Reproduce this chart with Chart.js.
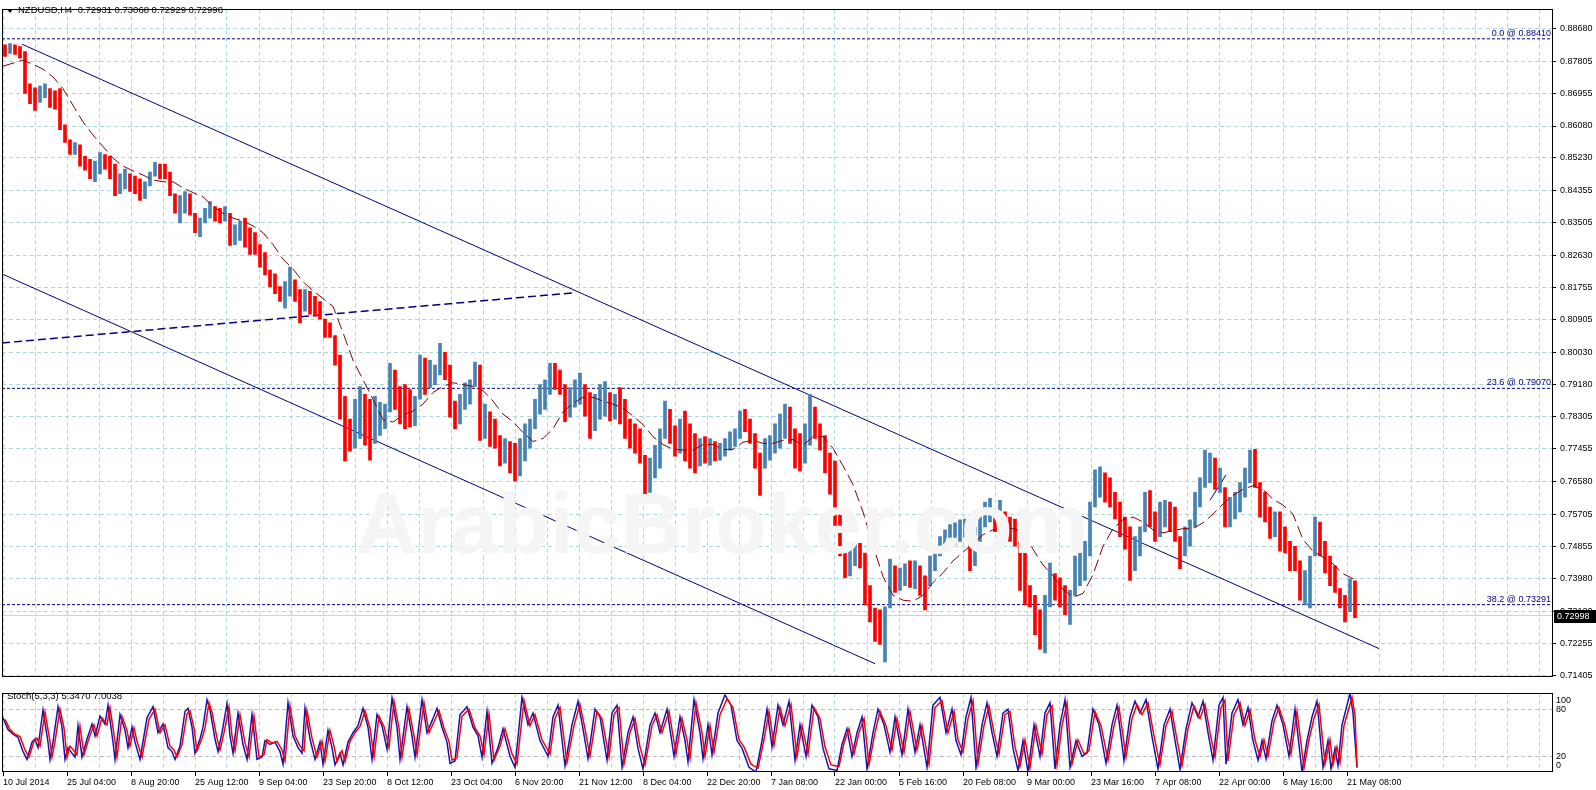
<!DOCTYPE html>
<html><head><meta charset="utf-8">
<script src="https://cdn.jsdelivr.net/npm/chart.js@4.4.1/dist/chart.umd.min.js"></script>
<style>
html,body{margin:0;padding:0;background:#fff;}
#wrap{position:relative;width:1596px;height:790px;overflow:hidden;font-family:"Liberation Sans",Arial,sans-serif;}
#c1{position:absolute;left:0;top:0;}
#c2{position:absolute;left:0;top:685px;}
.txt{position:absolute;white-space:pre;font-size:9.5px;line-height:12px;color:#000;}
#tri{position:absolute;left:7px;top:9px;width:0;height:0;border-left:3px solid transparent;border-right:3px solid transparent;border-top:4px solid #000;}
#wm{position:absolute;left:356px;top:481px;font:bold 85px "Liberation Sans",Arial,sans-serif;line-height:85px;color:#F5F5F5;white-space:nowrap;pointer-events:none;}
</style></head><body>
<div id="wrap">
<canvas id="c1" width="1596" height="686"></canvas>
<canvas id="c2" width="1596" height="105"></canvas>
<div id="tri"></div>
<div class="txt" style="left:18px;top:4px;">NZDUSD,H4  0.72931 0.73068 0.72929 0.72998</div>
<div class="txt" style="left:7px;top:690px;">Stoch(5,3,3) 5.3470 7.0038</div>
<div id="wm">ArabicBroker.com</div>
</div>
<script>
// ---------- data ----------
const tickLabels = ['10 Jul 2014','25 Jul 04:00','8 Aug 20:00','25 Aug 12:00','9 Sep 04:00','23 Sep 20:00','8 Oct 12:00','23 Oct 04:00','6 Nov 20:00','21 Nov 12:00','8 Dec 04:00','22 Dec 20:00','7 Jan 08:00','22 Jan 00:00','5 Feb 16:00','20 Feb 08:00','9 Mar 00:00','23 Mar 16:00','7 Apr 08:00','22 Apr 00:00','6 May 16:00','21 May 08:00'];
const yTickValues = [0.88680,0.87805,0.86955,0.86080,0.85230,0.84355,0.83505,0.82630,0.81755,0.80905,0.80030,0.79180,0.78305,0.77455,0.76580,0.75705,0.74855,0.73980,0.73120,0.72255,0.71405];
const stochLevels = [20, 80];

// H4 price, aggregated into blocks of 5 bars (high / low / close of each block)
const blockSize = 5;
const highs = [
0.8825,0.8828,0.8825,0.8820,0.8807,0.8721,0.8710,0.8715,0.8721,0.8708,
0.8702,0.8708,0.8611,0.8571,0.8564,0.8558,0.8527,0.8519,0.8514,0.8537,
0.8532,0.8527,0.8506,0.8480,0.8493,0.8480,0.8474,0.8467,0.8459,0.8485,
0.8511,0.8506,0.8506,0.8485,0.8427,0.8422,0.8433,0.8427,0.8375,0.8362,
0.8388,0.8406,0.8393,0.8388,0.8393,0.8375,0.8344,0.8354,0.8362,0.8336,
0.8323,0.8291,0.8270,0.8223,0.8213,0.8179,0.8192,0.8231,0.8197,0.8171,
0.8171,0.8166,0.8153,0.8139,0.8092,0.8082,0.8048,0.7996,0.7886,0.7825,
0.7878,0.7912,0.7891,0.7878,0.7886,0.7870,0.7865,0.7974,0.7956,0.7912,
0.7917,0.7904,0.7886,0.7996,0.7988,0.7982,0.7969,0.8027,0.8003,0.7969,
0.7873,0.7891,0.7922,0.7930,0.7977,0.7969,0.7865,0.7844,0.7825,0.7781,
0.7773,0.7765,0.7760,0.7773,0.7812,0.7825,0.7878,0.7917,0.7930,0.7974,
0.7974,0.7956,0.7917,0.7909,0.7930,0.7948,0.7917,0.7896,0.7891,0.7917,
0.7925,0.7896,0.7891,0.7909,0.7878,0.7825,0.7812,0.7799,0.7728,0.7721,
0.7755,0.7799,0.7873,0.7851,0.7807,0.7825,0.7846,0.7812,0.7786,0.7773,
0.7778,0.7773,0.7765,0.7760,0.7773,0.7791,0.7799,0.7846,0.7851,0.7825,
0.7786,0.7734,0.7773,0.7781,0.7812,0.7838,0.7865,0.7857,0.7799,0.7786,
0.7812,0.7891,0.7857,0.7812,0.7781,0.7734,0.7713,0.7577,0.7485,0.7480,
0.7493,0.7493,0.7467,0.7380,0.7320,0.7315,0.7323,0.7451,0.7433,0.7427,
0.7438,0.7446,0.7446,0.7433,0.7406,0.7459,0.7477,0.7511,0.7529,0.7543,
0.7550,0.7556,0.7558,0.7537,0.7537,0.7577,0.7603,0.7613,0.7577,0.7608,
0.7577,0.7563,0.7558,0.7498,0.7477,0.7380,0.7354,0.7315,0.7354,0.7440,
0.7412,0.7401,0.7380,0.7367,0.7459,0.7477,0.7498,0.7603,0.7689,0.7697,
0.7681,0.7668,0.7629,0.7603,0.7563,0.7537,0.7511,0.7537,0.7629,0.7634,
0.7577,0.7603,0.7608,0.7603,0.7590,0.7511,0.7537,0.7556,0.7629,0.7668,
0.7742,0.7734,0.7721,0.7694,0.7642,0.7616,0.7629,0.7655,0.7694,0.7742,
0.7744,0.7655,0.7629,0.7590,0.7577,0.7577,0.7537,0.7498,0.7485,0.7446,
0.7420,0.7459,0.7563,0.7550,0.7498,0.7459,0.7433,0.7372,0.7354,0.7398,
0.7393];
const lows = [
0.8794,0.8802,0.8799,0.8789,0.8695,0.8668,0.8650,0.8671,0.8684,0.8658,
0.8653,0.8598,0.8564,0.8532,0.8532,0.8501,0.8490,0.8467,0.8459,0.8480,
0.8493,0.8467,0.8422,0.8427,0.8440,0.8433,0.8427,0.8409,0.8414,0.8448,
0.8474,0.8467,0.8467,0.8422,0.8375,0.8349,0.8375,0.8370,0.8323,0.8312,
0.8349,0.8362,0.8354,0.8349,0.8354,0.8289,0.8291,0.8302,0.8284,0.8265,
0.8265,0.8231,0.8210,0.8179,0.8160,0.8139,0.8121,0.8153,0.8139,0.8082,
0.8113,0.8105,0.8100,0.8092,0.8043,0.8043,0.7969,0.7825,0.7713,0.7739,
0.7747,0.7773,0.7755,0.7715,0.7760,0.7781,0.7799,0.7844,0.7851,0.7812,
0.7799,0.7804,0.7807,0.7878,0.7891,0.7909,0.7917,0.7943,0.7930,0.7830,
0.7799,0.7812,0.7851,0.7865,0.7912,0.7768,0.7773,0.7752,0.7747,0.7700,
0.7707,0.7681,0.7660,0.7673,0.7713,0.7747,0.7799,0.7838,0.7851,0.7891,
0.7904,0.7891,0.7818,0.7830,0.7857,0.7865,0.7833,0.7773,0.7794,0.7825,
0.7833,0.7820,0.7825,0.7812,0.7773,0.7747,0.7734,0.7707,0.7624,0.7629,
0.7668,0.7694,0.7773,0.7760,0.7726,0.7734,0.7713,0.7694,0.7681,0.7700,
0.7707,0.7702,0.7713,0.7715,0.7726,0.7742,0.7752,0.7773,0.7791,0.7760,
0.7694,0.7621,0.7694,0.7715,0.7734,0.7747,0.7773,0.7760,0.7694,0.7686,
0.7707,0.7755,0.7773,0.7742,0.7681,0.7624,0.7537,0.7459,0.7401,0.7406,
0.7433,0.7427,0.7328,0.7283,0.7231,0.7223,0.7176,0.7320,0.7362,0.7367,
0.7380,0.7375,0.7372,0.7354,0.7315,0.7380,0.7420,0.7459,0.7472,0.7485,
0.7490,0.7498,0.7511,0.7420,0.7433,0.7498,0.7537,0.7550,0.7524,0.7550,
0.7524,0.7498,0.7485,0.7367,0.7328,0.7323,0.7249,0.7210,0.7200,0.7323,
0.7341,0.7323,0.7302,0.7276,0.7354,0.7380,0.7394,0.7459,0.7590,0.7616,
0.7603,0.7590,0.7558,0.7511,0.7477,0.7394,0.7420,0.7459,0.7524,0.7537,
0.7498,0.7511,0.7537,0.7524,0.7498,0.7425,0.7459,0.7485,0.7537,0.7590,
0.7642,0.7655,0.7637,0.7629,0.7537,0.7537,0.7558,0.7577,0.7616,0.7655,
0.7642,0.7563,0.7550,0.7506,0.7511,0.7472,0.7467,0.7420,0.7420,0.7341,
0.7328,0.7320,0.7459,0.7459,0.7414,0.7380,0.7362,0.7320,0.7283,0.7310,
0.7294];
const closes = [
0.8810,0.8815,0.8807,0.8799,0.8728,0.8689,0.8676,0.8695,0.8702,0.8676,
0.8668,0.8624,0.8579,0.8545,0.8550,0.8511,0.8506,0.8493,0.8501,0.8519,
0.8511,0.8493,0.8440,0.8459,0.8467,0.8454,0.8448,0.8427,0.8454,0.8474,
0.8493,0.8485,0.8480,0.8433,0.8388,0.8401,0.8414,0.8380,0.8336,0.8349,
0.8375,0.8388,0.8375,0.8362,0.8370,0.8310,0.8328,0.8336,0.8302,0.8284,
0.8275,0.8249,0.8223,0.8192,0.8171,0.8153,0.8166,0.8192,0.8160,0.8126,
0.8145,0.8139,0.8113,0.8100,0.8061,0.8053,0.7988,0.7851,0.7812,0.7773,
0.7825,0.7865,0.7812,0.7773,0.7825,0.7838,0.7846,0.7917,0.7891,0.7865,
0.7851,0.7838,0.7851,0.7956,0.7943,0.7951,0.7956,0.7982,0.7969,0.7851,
0.7825,0.7878,0.7891,0.7904,0.7951,0.7799,0.7825,0.7786,0.7773,0.7734,
0.7747,0.7715,0.7694,0.7747,0.7760,0.7799,0.7851,0.7891,0.7904,0.7943,
0.7930,0.7917,0.7878,0.7878,0.7891,0.7904,0.7865,0.7825,0.7851,0.7878,
0.7878,0.7851,0.7865,0.7851,0.7812,0.7773,0.7760,0.7721,0.7668,0.7681,
0.7721,0.7773,0.7838,0.7799,0.7773,0.7799,0.7773,0.7747,0.7734,0.7747,
0.7734,0.7747,0.7734,0.7742,0.7752,0.7773,0.7773,0.7825,0.7812,0.7773,
0.7721,0.7694,0.7747,0.7760,0.7773,0.7799,0.7825,0.7799,0.7747,0.7734,
0.7773,0.7825,0.7799,0.7773,0.7707,0.7642,0.7563,0.7472,0.7433,0.7446,
0.7459,0.7454,0.7354,0.7302,0.7262,0.7249,0.7302,0.7420,0.7394,0.7406,
0.7412,0.7394,0.7420,0.7380,0.7354,0.7446,0.7459,0.7498,0.7511,0.7511,
0.7524,0.7537,0.7537,0.7485,0.7511,0.7550,0.7577,0.7577,0.7550,0.7577,
0.7550,0.7524,0.7511,0.7406,0.7354,0.7341,0.7276,0.7236,0.7302,0.7406,
0.7380,0.7354,0.7341,0.7354,0.7420,0.7446,0.7472,0.7577,0.7655,0.7668,
0.7642,0.7616,0.7590,0.7537,0.7511,0.7459,0.7472,0.7511,0.7590,0.7577,
0.7537,0.7563,0.7577,0.7563,0.7524,0.7459,0.7511,0.7537,0.7603,0.7642,
0.7694,0.7694,0.7668,0.7668,0.7577,0.7577,0.7603,0.7629,0.7668,0.7707,
0.7668,0.7603,0.7577,0.7537,0.7550,0.7511,0.7485,0.7446,0.7433,0.7380,
0.7380,0.7433,0.7537,0.7498,0.7459,0.7406,0.7380,0.7341,0.7315,0.7380,
0.72998];

// moving average, one value every 10 bars
const maStep = 10;
const maValues = [
0.8768,0.8776,0.8784,0.8773,0.8760,0.8739,0.8708,0.8663,0.8619,0.8584,
0.8553,0.8522,0.8501,0.8488,0.8477,0.8464,0.8459,0.8459,0.8443,0.8430,
0.8419,0.8393,0.8375,0.8362,0.8354,0.8341,0.8323,0.8291,0.8252,0.8226,
0.8192,0.8168,0.8147,0.8126,0.8056,0.7982,0.7930,0.7878,0.7823,0.7817,
0.7836,0.7846,0.7865,0.7896,0.7912,0.7922,0.7917,0.7912,0.7901,0.7873,
0.7838,0.7818,0.7789,0.7765,0.7773,0.7799,0.7844,0.7867,0.7883,0.7883,
0.7873,0.7865,0.7854,0.7833,0.7810,0.7778,0.7757,0.7744,0.7742,0.7742,
0.7757,0.7757,0.7744,0.7744,0.7763,0.7768,0.7760,0.7760,0.7768,0.7770,
0.7755,0.7778,0.7778,0.7747,0.7700,0.7650,0.7577,0.7487,0.7404,0.7354,
0.7341,0.7338,0.7354,0.7388,0.7414,0.7446,0.7469,0.7493,0.7516,0.7529,
0.7532,0.7532,0.7524,0.7477,0.7435,0.7406,0.7370,0.7349,0.7359,0.7409,
0.7485,0.7532,0.7556,0.7563,0.7550,0.7529,0.7521,0.7527,0.7532,0.7532,
0.7548,0.7571,0.7598,0.7621,0.7637,0.7647,0.7637,0.7611,0.7595,0.7571,
0.7503,0.7472,0.7456,0.7438,0.7412,0.7398];

// Fibonacci levels
const fibNames = ['0.0','23.6','38.2'];
const fibLevels = [0.88410, 0.79070, 0.73291];
// drawn trend objects: [bar, price] anchor points
const upperChannel = [[19, 0.88266],[1376, 0.72116]];
const lowerChannel = [[-1, 0.82127],[872, 0.71713]];
const dashedTrend  = [[-1, 0.80284],[569, 0.81619]];
const shortTrend   = [[1207, 0.7608],[1223, 0.7676]];

// Stochastic (5,3,3): turning points [bar] / [value]
const stochBars = [
0,5,10,15,20,24,29,32,35,40,
45,47,50,55,59,62,65,69,72,75,
79,84,89,92,97,102,105,110,112,117,
122,125,129,132,137,144,150,155,160,165,
169,172,177,182,185,189,192,197,200,204,
207,212,215,219,224,227,230,235,240,244,
249,254,259,262,267,272,277,280,285,290,
295,299,302,307,312,317,320,325,329,332,
337,340,345,350,355,360,365,369,374,379,
384,389,394,397,404,409,412,419,424,429,
434,439,444,447,452,457,464,470,475,479,
484,489,495,500,507,512,519,525,530,537,
545,550,555,562,569,575,580,585,592,597,
604,609,614,619,625,630,635,640,647,652,
657,664,671,677,682,685,691,697,700,705,
709,715,722,728,734,739,746,753,759,764,
769,775,780,786,792,797,803,809,815,820,
826,834,839,844,849,854,859,864,870,875,
881,887,892,899,905,912,917,924,930,937,
943,949,953,958,963,968,973,979,984,989,
994,1000,1005,1010,1015,1020,1025,1031,1037,1042,
1047,1052,1057,1062,1067,1073,1079,1084,1090,1096,
1103,1109,1114,1121,1127,1132,1137,1143,1149,1155,
1161,1167,1172,1177,1183,1189,1195,1200,1205,1210,
1216,1220,1223,1229,1235,1240,1245,1250,1255,1259,
1263,1269,1274,1280,1286,1292,1299,1304,1309,1314,
1320,1325,1328,1332,1335,1339,1343,1347,1350,1354];
const stochMain = [
69,54,48,44,26,16,38,42,31,79,
38,16,38,83,57,16,31,24,19,59,
19,42,61,46,71,61,85,38,16,73,
53,31,57,38,16,69,83,50,61,31,
26,16,33,77,81,57,24,42,57,92,
79,42,26,50,87,46,24,75,35,16,
73,16,19,40,35,38,26,10,88,46,
31,24,81,42,16,38,10,53,31,9,
24,9,38,50,59,81,57,16,73,59,
29,94,57,16,83,46,19,92,50,65,
81,57,38,11,14,73,83,57,46,19,
77,11,31,55,20,6,95,60,75,40,
20,70,85,8,60,90,55,17,80,70,
15,75,85,6,50,70,30,4,60,75,
50,80,20,70,40,13,92,50,17,60,
22,75,98,85,40,30,6,0,40,80,
32,85,60,90,15,60,20,85,70,30,
4,2,35,55,20,50,70,4,50,80,
60,25,70,22,80,25,60,6,85,95,
50,80,40,22,70,95,6,60,88,50,
20,75,80,30,2,40,0,60,20,75,
88,4,60,92,6,40,20,24,80,60,
11,60,85,15,70,90,75,92,45,4,
60,80,40,3,55,88,70,90,50,15,
85,95,10,75,92,60,82,40,15,40,
17,65,85,60,20,80,0,40,70,90,
6,40,4,30,8,60,80,100,75,5.347];
const stochSignalBars = [
2,7,12,17,22,26,31,34,37,42,
47,49,52,57,61,64,67,71,74,77,
81,86,91,94,99,104,107,112,114,119,
124,127,131,134,139,146,152,157,162,167,
171,174,179,184,187,191,194,199,202,206,
209,214,217,221,226,229,232,237,242,246,
251,256,261,264,269,274,279,282,287,292,
297,301,304,309,314,319,322,327,331,334,
339,342,347,352,357,362,367,371,376,381,
386,391,396,399,406,411,414,421,426,431,
436,441,446,449,454,459,466,472,477,481,
486,491,497,502,509,514,521,527,532,539,
547,552,557,564,571,577,582,587,594,599,
606,611,616,621,627,632,637,642,649,654,
659,666,673,679,684,687,693,699,702,707,
711,717,724,730,736,741,748,755,761,766,
771,777,782,788,794,799,805,811,817,822,
828,836,841,846,851,856,861,866,872,877,
883,889,894,901,907,914,919,926,932,939,
945,951,955,960,965,970,975,981,986,991,
996,1002,1007,1012,1017,1022,1027,1033,1039,1044,
1049,1054,1059,1064,1069,1075,1081,1086,1092,1098,
1105,1111,1116,1123,1129,1134,1139,1145,1151,1157,
1163,1169,1174,1179,1185,1191,1197,1202,1207,1212,
1218,1222,1225,1231,1237,1242,1247,1252,1257,1261,
1265,1271,1276,1282,1288,1294,1301,1306,1311,1316,
1322,1327,1330,1334,1337,1341,1345,1349,1352,1354];
const stochSignal = [
67,54,48,45,28,19,39,43,33,76,
39,19,39,80,56,19,33,27,22,58,
22,43,60,46,69,60,82,39,19,71,
53,33,56,39,19,67,80,50,60,33,
28,19,35,74,78,56,27,43,56,88,
76,43,28,50,83,46,27,73,37,19,
71,19,22,41,37,39,28,14,84,46,
33,27,78,43,19,39,14,53,33,13,
27,13,39,50,58,78,56,19,71,58,
31,90,56,19,80,46,22,88,50,64,
78,56,39,15,18,71,80,56,46,22,
74,15,33,55,23,10,91,59,73,41,
23,68,82,12,59,86,55,20,77,68,
19,73,82,10,50,68,32,9,59,73,
50,77,23,68,41,17,88,50,20,59,
25,73,93,82,41,32,10,5,41,77,
34,82,59,86,19,59,23,82,68,32,
9,7,37,55,23,50,68,9,50,77,
59,28,68,25,77,28,59,10,82,91,
50,77,41,25,68,91,10,59,84,50,
23,73,77,32,7,41,5,59,23,73,
84,9,59,88,10,41,23,27,77,59,
15,59,82,19,68,86,73,88,46,9,
59,77,41,8,55,84,68,86,50,19,
82,91,14,73,88,59,79,41,19,41,
20,64,82,59,23,77,5,41,68,86,
10,41,9,32,12,59,77,95,73,7.004];

// ---------- layout / style ----------
const xMin = -1, xMax = 1550;
const yMin = 0.71368, yMax = 0.89196;
const gridStep = 32, labelStep = 64;
const gridBars = [];
for (let b = 0; b <= xMax; b += gridStep) gridBars.push(b);
const FONT = '"Liberation Sans", Arial, sans-serif';
const gridColor = '#A9D8DF';
const upColor = '#4682B4', downColor = '#FF0000';

const framePlugin = {
  id: 'frame',
  afterDraw(chart) {
    const {ctx, chartArea: a} = chart;
    ctx.save();
    ctx.strokeStyle = '#000'; ctx.lineWidth = 1; ctx.setLineDash([]);
    const l = Math.round(a.left) + 0.5, t = Math.round(a.top) + 0.5;
    ctx.strokeRect(l, t, Math.round(a.right) - Math.round(a.left) - 1, Math.round(a.bottom) - Math.round(a.top) - 1);
    ctx.restore();
  }
};
const mainLabels = {
  id: 'mainLabels',
  afterDatasetsDraw(chart) {
    const {ctx, chartArea: a, scales: {y}} = chart;
    ctx.save();
    ctx.font = '9px ' + FONT;
    ctx.fillStyle = '#000080'; ctx.textAlign = 'right'; ctx.textBaseline = 'alphabetic';
    fibLevels.forEach((lv, i) => {
      ctx.fillText(fibNames[i] + ' @ ' + lv.toFixed(5), a.right - 2, y.getPixelForValue(lv) - 3);
    });
    ctx.restore();
  },
  afterDraw(chart) {
    const {ctx, chartArea: a, scales: {y}} = chart;
    const last = closes[closes.length - 1];
    const by = Math.round(y.getPixelForValue(last));
    ctx.save();
    ctx.fillStyle = '#000';
    ctx.fillRect(Math.round(a.right) + 1, by - 6, chart.width - Math.round(a.right) - 1, 13);
    ctx.fillStyle = '#fff'; ctx.textAlign = 'left'; ctx.textBaseline = 'middle';
    ctx.font = '9px ' + FONT;
    ctx.fillText(last.toFixed(5), Math.round(a.right) + 4, by + 1);
    ctx.restore();
  }
};
const stochLabels = {
  id: 'stochLabels',
  afterDraw(chart) {
    const {ctx, chartArea: a, scales: {y}} = chart;
    ctx.save();
    ctx.font = '9px ' + FONT; ctx.fillStyle = '#000';
    ctx.textAlign = 'left'; ctx.textBaseline = 'middle';
    ctx.fillText('100', a.right + 3, y.getPixelForValue(100) + 7);
    ctx.fillText('0', a.right + 3, y.getPixelForValue(0) - 6);
    ctx.restore();
  }
};

function lineDs(pts, color, dash, width, order) {
  return { type: 'line', data: pts.map(p => ({x: p[0], y: p[1]})), borderColor: color, borderWidth: width,
           borderDash: dash, pointRadius: 0, fill: false, tension: 0, order: order };
}

const barData = highs.map((h, i) => ({x: i * blockSize + 2, y: [lows[i], h]}));
const barColors = closes.map((c, i) => (i > 0 && c >= closes[i - 1]) ? upColor : downColor);
const lastClose = closes[closes.length - 1];

const datasets = [
  lineDs([[xMin, lastClose], [xMax, lastClose]], '#A6DCE8', [], 1, 20),
  ...fibLevels.map(lv => lineDs([[xMin, lv], [xMax, lv]], '#000080', [3, 2], 1, 15)),
  lineDs(upperChannel, '#000080', [], 1, 12),
  lineDs(lowerChannel, '#000080', [], 1, 12),
  lineDs(dashedTrend, '#000080', [8, 4], 1.5, 12),
  lineDs(shortTrend, '#000080', [], 1, 12),
  { type: 'bar', data: barData, backgroundColor: barColors, borderWidth: 0, barThickness: 3, grouped: false, order: 5 },
  { type: 'line', data: maValues.map((v, i) => ({x: i * maStep, y: v})), borderColor: '#800000', borderWidth: 1,
    borderDash: [12, 5], pointRadius: 0, fill: false, tension: 0, order: 1 }
];

new Chart(document.getElementById('c1'), {
  type: 'line',
  data: { datasets },
  options: {
    responsive: false, animation: false, devicePixelRatio: 1, events: [],
    layout: { padding: { left: 2, top: 2, right: 0, bottom: 3 } },
    plugins: { legend: { display: false }, tooltip: { enabled: false } },
    scales: {
      x: {
        type: 'linear', min: xMin, max: xMax, offset: false,
        grid: { color: gridColor, lineWidth: 1, drawTicks: false, offset: false },
        border: { display: false, dash: [4, 3] },
        ticks: { display: false },
        afterBuildTicks: s => { s.ticks = gridBars.map(v => ({value: v})); },
        afterFit: s => { s.height = 0; }
      },
      y: {
        type: 'linear', position: 'right', min: yMin, max: yMax,
        grid: { color: gridColor, lineWidth: 1, drawTicks: true, tickLength: 3, tickColor: '#000', tickBorderDash: [] },
        border: { display: false, dash: [4, 3] },
        ticks: { font: { family: FONT, size: 9 }, color: '#000', padding: 4, autoSkip: false,
                 callback: v => Number(v).toFixed(5) },
        afterBuildTicks: s => { s.ticks = yTickValues.map(v => ({value: v})); },
        afterFit: s => { s.width = 43; }
      }
    }
  },
  plugins: [framePlugin, mainLabels]
});

new Chart(document.getElementById('c2'), {
  type: 'line',
  data: { datasets: [
    { data: stochBars.map((b, i) => ({x: b, y: stochMain[i]})), borderColor: '#1414B4', borderWidth: 1.5,
      pointRadius: 0, fill: false, tension: 0, order: 2 },
    { data: stochSignalBars.map((b, i) => ({x: b, y: stochSignal[i]})), borderColor: '#FF0000', borderWidth: 1.5,
      pointRadius: 0, fill: false, tension: 0, order: 1 }
  ] },
  options: {
    responsive: false, animation: false, devicePixelRatio: 1, events: [],
    layout: { padding: { left: 2, top: 1, right: 0, bottom: 0 } },
    plugins: { legend: { display: false }, tooltip: { enabled: false } },
    scales: {
      x: {
        type: 'linear', min: xMin, max: xMax, offset: false,
        grid: { color: gridColor, lineWidth: 1, drawTicks: true, tickLength: 4, offset: false,
                tickColor: c => (c.tick && c.tick.value % labelStep === 0 && tickLabels[c.tick.value / labelStep]) ? '#000' : 'rgba(0,0,0,0)',
                tickBorderDash: [] },
        border: { display: false, dash: [4, 3] },
        ticks: { display: true, align: 'start', autoSkip: false, maxRotation: 0, minRotation: 0, padding: 1,
                 font: { family: FONT, size: 9 }, color: '#000',
                 callback: v => (v % labelStep === 0 && tickLabels[v / labelStep]) ? tickLabels[v / labelStep] : '' },
        afterBuildTicks: s => { s.ticks = gridBars.map(v => ({value: v})); },
        afterFit: s => { s.height = 18; }
      },
      y: {
        type: 'linear', position: 'right', min: 0, max: 100,
        grid: { color: '#C0C0C0', lineWidth: 1, drawTicks: false },
        border: { display: false, dash: [4, 3] },
        ticks: { font: { family: FONT, size: 9 }, color: '#000', padding: 3, autoSkip: false, callback: v => String(v) },
        afterBuildTicks: s => { s.ticks = stochLevels.map(v => ({value: v})); },
        afterFit: s => { s.width = 43; }
      }
    }
  },
  plugins: [framePlugin, stochLabels]
});
</script>
</body></html>
